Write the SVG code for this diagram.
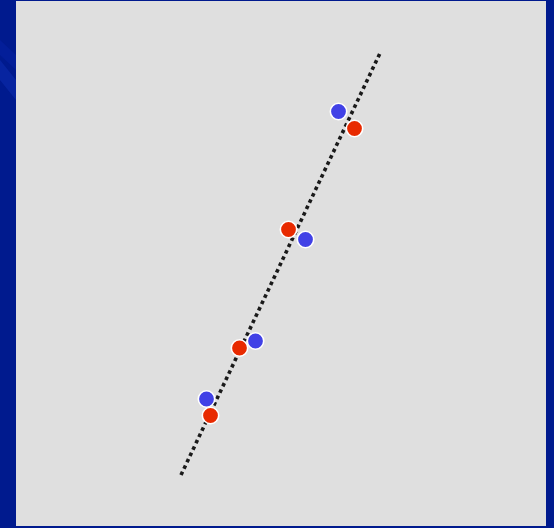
<svg xmlns="http://www.w3.org/2000/svg" width="554" height="528" viewBox="0 0 554 528">
<defs>
<linearGradient id="stripe" x1="0" y1="0" x2="1" y2="1">
<stop offset="0" stop-color="#0a2aa8" stop-opacity="0"/>
<stop offset="0.5" stop-color="#0a2aa8" stop-opacity="0.8"/>
<stop offset="1" stop-color="#0a2aa8" stop-opacity="0"/>
</linearGradient>
<style>
.blue{fill:#4141e6;stroke:#ffffff;stroke-width:1.6}
.red{fill:#e82a00;stroke:#ffffff;stroke-width:1.6}
.trend{stroke:#1a1a1a;stroke-width:3.6;stroke-dasharray:3.6 3.4;fill:none}
</style>
</defs>
<rect x="0" y="0" width="554" height="528" fill="#001a8e"/>
<polygon points="0,40 16,55 16,70 0,55" fill="#0522a0" opacity="0.6"/>
<polygon points="0,60 16,80 16,100 0,80" fill="#0a2aa8" opacity="0.7"/>
<rect x="16" y="1" width="530" height="525" fill="#dfdfdf"/>
<g id="connectors">
<line class="trend" x1="181" y1="475" x2="381" y2="51"/>
</g>
<g id="p1"><circle class="blue" cx="338.5" cy="111.5" r="8.2"/></g>
<g id="p2"><circle class="red" cx="354.5" cy="128.5" r="8.2"/></g>
<g id="p3"><circle class="red" cx="288.5" cy="229.5" r="8.2"/></g>
<g id="p4"><circle class="blue" cx="305.5" cy="239.5" r="8.2"/></g>
<g id="p5"><circle class="blue" cx="255.5" cy="341" r="8.2"/></g>
<g id="p6"><circle class="red" cx="239.5" cy="348" r="8.2"/></g>
<g id="p7"><circle class="blue" cx="206.5" cy="399" r="8.2"/></g>
<g id="p8"><circle class="red" cx="210.5" cy="415.5" r="8.2"/></g>
</svg>
